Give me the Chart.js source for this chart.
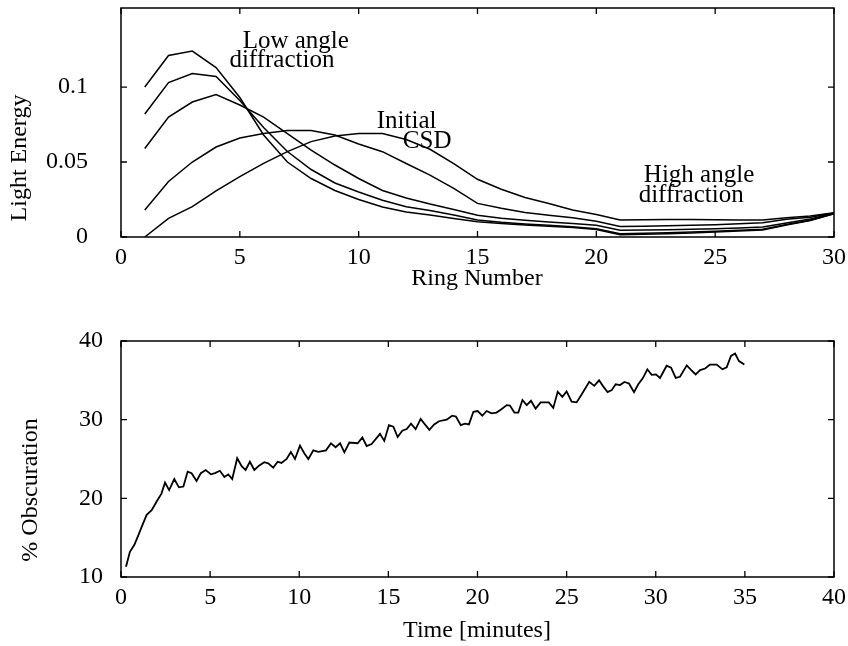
<!DOCTYPE html>
<html>
<head>
<meta charset="utf-8">
<script src="https://cdn.jsdelivr.net/npm/chart.js@4.4.1/dist/chart.umd.min.js"></script>
<style>
  html, body { margin: 0; padding: 0; background: #fff; }
  #wrap { position: relative; width: 848px; height: 646px; }
  canvas { position: absolute; left: 0; }
  #energyChart { top: 0; }
  #obscurationChart { top: 290px; }
</style>
</head>
<body>
<div id="wrap">
  <canvas id="energyChart" width="848" height="290"></canvas>
  <canvas id="obscurationChart" width="848" height="356"></canvas>
</div>
<script>
// ring detector number 1..30
const rings = [1, 2, 3, 4, 5, 6, 7, 8, 9, 10, 11, 12, 13, 14, 15,
  16, 17, 18, 19, 20, 21, 22, 23, 24, 25, 26, 27, 28, 29, 30];

// light energy curves, from latest (low angle) to the initial CSD
const energyLate = [0.100, 0.121, 0.124, 0.113, 0.093, 0.068, 0.050, 0.039, 0.031, 0.025,
  0.020, 0.0167, 0.0147, 0.0124, 0.0102, 0.0090, 0.0080, 0.0072, 0.0063, 0.0050,
  0.0015, 0.0018, 0.0022, 0.0027, 0.0033, 0.0040, 0.0047, 0.0080, 0.0110, 0.0155];
const energyMid2 = [0.082, 0.103, 0.109, 0.107, 0.091, 0.073, 0.057, 0.045, 0.036, 0.030,
  0.0245, 0.0202, 0.0176, 0.0147, 0.0113, 0.0098, 0.0087, 0.0078, 0.0068, 0.0055,
  0.0022, 0.0025, 0.0029, 0.0033, 0.0038, 0.0045, 0.0052, 0.0083, 0.0112, 0.0156];
const energyMid1 = [0.059, 0.080, 0.090, 0.095, 0.088, 0.080, 0.069, 0.058, 0.048, 0.039,
  0.031, 0.026, 0.022, 0.0184, 0.0145, 0.0125, 0.0112, 0.0100, 0.0090, 0.0078,
  0.0045, 0.0046, 0.0048, 0.0051, 0.0055, 0.0060, 0.0067, 0.0093, 0.0120, 0.0158];
const energyEarly = [0.018, 0.037, 0.050, 0.060, 0.066, 0.069, 0.071, 0.071, 0.068, 0.062,
  0.0569, 0.049, 0.0413, 0.0324, 0.0224, 0.0191, 0.0164, 0.0145, 0.0128, 0.0105,
  0.0070, 0.0072, 0.0075, 0.0078, 0.0082, 0.0088, 0.0095, 0.0118, 0.0132, 0.0160];
const energyInitial = [0.000, 0.0124, 0.0202, 0.0307, 0.0402, 0.0491, 0.0569, 0.0636, 0.0673, 0.0690,
  0.0690, 0.0650, 0.0585, 0.0490, 0.0385, 0.0318, 0.0264, 0.0224, 0.0180, 0.0150,
  0.0113, 0.0115, 0.0116, 0.0116, 0.0115, 0.0114, 0.0113, 0.0128, 0.0140, 0.0162];

// obscuration over time
const timeMinutes = [0.28, 0.5, 0.75, 0.97, 1.2, 1.44, 1.72, 2.0, 2.27, 2.47,
  2.7, 2.99, 3.25, 3.5, 3.74, 3.96, 4.24, 4.48, 4.75, 5.05,
  5.27, 5.55, 5.8, 6.02, 6.24, 6.52, 6.77, 6.99, 7.23, 7.48,
  7.74, 8.04, 8.26, 8.54, 8.79, 9.0, 9.29, 9.53, 9.76, 10.04,
  10.29, 10.51, 10.79, 11.07, 11.5, 11.78, 12.04, 12.29, 12.53, 12.81,
  13.28, 13.54, 13.78, 14.06, 14.53, 14.77, 15.03, 15.28, 15.52, 15.78,
  16.03, 16.27, 16.53, 16.81, 17.05, 17.3, 17.57, 17.84, 18.27, 18.58,
  18.79, 19.06, 19.3, 19.52, 19.77, 20.01, 20.27, 20.51, 20.79, 21.07,
  21.36, 21.64, 21.82, 22.07, 22.29, 22.52, 22.76, 23.0, 23.26, 23.54,
  24.0, 24.25, 24.5, 24.76, 25.0, 25.28, 25.56, 25.84, 26.27, 26.55,
  26.82, 27.06, 27.3, 27.53, 27.75, 28.0, 28.24, 28.5, 28.78, 29.02,
  29.27, 29.53, 29.77, 30.01, 30.24, 30.61, 30.86, 31.12, 31.36, 31.74,
  31.99, 32.24, 32.49, 32.77, 33.04, 33.42, 33.74, 33.98, 34.22, 34.45,
  34.67, 34.97];
const obscuration = [11.3, 13.2, 14.1, 15.3, 16.6, 17.9, 18.5, 19.6, 20.6, 22.0,
  21.05, 22.45, 21.4, 21.5, 23.4, 23.2, 22.2, 23.2, 23.6, 23.05,
  23.2, 23.5, 22.7, 23.05, 22.45, 25.1, 24.1, 23.6, 24.65, 23.6,
  24.15, 24.6, 24.45, 23.9, 24.65, 24.5, 25.0, 25.9, 25.0, 26.7,
  25.7, 25.0, 26.1, 25.9, 26.1, 27.0, 26.5, 27.0, 25.85, 27.1,
  27.0, 27.75, 26.65, 26.9, 28.2, 27.3, 29.3, 29.1, 27.8, 28.6,
  28.8, 29.5, 28.8, 30.1, 29.4, 28.7, 29.4, 29.8, 30.0, 30.5,
  30.4, 29.3, 29.5, 29.4, 31.0, 31.1, 30.5, 31.1, 30.8, 30.9,
  31.35, 31.85, 31.8, 30.9, 30.9, 32.5, 31.85, 32.4, 31.4, 32.2,
  32.2, 31.5, 33.55, 32.9, 33.6, 32.3, 32.2, 33.2, 34.8, 34.3,
  35.0, 34.2, 33.5, 33.75, 34.5, 34.4, 34.8, 34.6, 33.5, 34.5,
  35.25, 36.4, 35.7, 35.75, 35.3, 36.85, 36.6, 35.3, 35.45, 36.9,
  36.3, 35.75, 36.3, 36.5, 37.0, 37.0, 36.4, 36.65, 38.1, 38.4,
  37.45, 37.0];

const ringTicks = [0, 5, 10, 15, 20, 25, 30];
const energyTicks = [0, 0.05, 0.1];
const timeTicks = [0, 5, 10, 15, 20, 25, 30, 35, 40];
const obscurationTicks = [10, 20, 30, 40];

const SERIF = "'Liberation Serif', 'Times New Roman', serif";
Chart.defaults.font.family = SERIF;
Chart.defaults.font.size = 24;
Chart.defaults.color = "#000";
Chart.defaults.animation = false;

function toPoints(xs, ys) {
  return xs.map((x, i) => ({ x: x, y: ys[i] }));
}

// fixed axis boxes so the plot areas land where the original ones are
function fixWidth(w) {
  return (s) => { s.width = w; s.paddingTop = 0; s.paddingBottom = 0; };
}
function fixHeight(h) {
  return (s) => { s.height = h; s.paddingLeft = 0; s.paddingRight = 0; };
}

// box frame, inward tick marks on all sides, axis titles and notes
const framePlugin = {
  id: "frame",
  afterDraw(chart, args, opts) {
    const ctx = chart.ctx;
    const a = chart.chartArea;
    const xs = chart.scales.x;
    const ys = chart.scales.y;
    ctx.save();
    ctx.strokeStyle = "#000";
    ctx.lineWidth = 1.5;
    ctx.strokeRect(a.left, a.top, a.right - a.left, a.bottom - a.top);
    ctx.lineWidth = 1.3;
    ctx.beginPath();
    xs.ticks.forEach((t) => {
      const px = xs.getPixelForValue(t.value);
      ctx.moveTo(px, a.bottom);
      ctx.lineTo(px, a.bottom - 6);
      ctx.moveTo(px, a.top);
      ctx.lineTo(px, a.top + 6);
    });
    ys.ticks.forEach((t) => {
      const py = ys.getPixelForValue(t.value);
      ctx.moveTo(a.left, py);
      ctx.lineTo(a.left + 6, py);
      ctx.moveTo(a.right, py);
      ctx.lineTo(a.right - 6, py);
    });
    ctx.stroke();

    ctx.fillStyle = "#000";
    ctx.font = "24px " + SERIF;
    ctx.textAlign = "center";
    ctx.textBaseline = "middle";
    (opts.titles || []).forEach((t) => {
      ctx.save();
      ctx.translate(t.x, t.y);
      if (t.vertical) ctx.rotate(-Math.PI / 2);
      ctx.fillText(t.text, 0, 0);
      ctx.restore();
    });

    ctx.font = "25px " + SERIF;
    ctx.textAlign = "left";
    ctx.textBaseline = "alphabetic";
    (opts.notes || []).forEach((n) => {
      ctx.fillText(n.text, xs.getPixelForValue(n.x), ys.getPixelForValue(n.y));
    });
    ctx.restore();
  },
};

function lineSet(data, width) {
  return {
    data: data,
    borderColor: "#000",
    borderWidth: width,
    pointRadius: 0,
    tension: 0,
    fill: false,
  };
}

// Light energy vs ring number
new Chart(document.getElementById("energyChart").getContext("2d"), {
  type: "line",
  data: {
    datasets: [
      lineSet(toPoints(rings, energyLate), 1.5),
      lineSet(toPoints(rings, energyMid2), 1.5),
      lineSet(toPoints(rings, energyMid1), 1.5),
      lineSet(toPoints(rings, energyEarly), 1.5),
      lineSet(toPoints(rings, energyInitial), 1.5),
    ],
  },
  options: {
    responsive: false,
    devicePixelRatio: 1,
    layout: { padding: { top: 8, right: 14, left: 0, bottom: 0 } },
    scales: {
      x: {
        type: "linear",
        min: 0,
        max: 30,
        afterBuildTicks: (s) => { s.ticks = ringTicks.map((v) => ({ value: v })); },
        afterFit: fixHeight(53),
        grid: { display: false, drawTicks: false },
        border: { display: false },
        ticks: { padding: 6, maxRotation: 0, autoSkip: false },
      },
      y: {
        type: "linear",
        min: 0,
        max: 0.1527,
        afterBuildTicks: (s) => { s.ticks = energyTicks.map((v) => ({ value: v })); },
        afterFit: fixWidth(121),
        grid: { display: false, drawTicks: false },
        border: { display: false },
        ticks: { padding: 33, callback: (v) => String(v) },
      },
    },
    plugins: {
      legend: { display: false },
      tooltip: { enabled: false },
      frame: {
        titles: [
          { text: "Light Energy", x: 20, y: 158, vertical: true },
          { text: "Ring Number", x: 477, y: 279 },
        ],
        notes: [
          { text: "Low angle", x: 5.12, y: 0.1258 },
          { text: "diffraction", x: 4.56, y: 0.1135 },
          { text: "Initial", x: 10.76, y: 0.0725 },
          { text: "CSD", x: 11.86, y: 0.0593 },
          { text: "High angle", x: 22.0, y: 0.0369 },
          { text: "diffraction", x: 21.78, y: 0.0235 },
        ],
      },
    },
  },
  plugins: [framePlugin],
});

// % obscuration vs time
new Chart(document.getElementById("obscurationChart").getContext("2d"), {
  type: "line",
  data: {
    datasets: [lineSet(toPoints(timeMinutes, obscuration), 1.8)],
  },
  options: {
    responsive: false,
    devicePixelRatio: 1,
    layout: { padding: { top: 51, right: 14, left: 0, bottom: 0 } },
    scales: {
      x: {
        type: "linear",
        min: 0,
        max: 40,
        afterBuildTicks: (s) => { s.ticks = timeTicks.map((v) => ({ value: v })); },
        afterFit: fixHeight(69),
        grid: { display: false, drawTicks: false },
        border: { display: false },
        ticks: { padding: 6, maxRotation: 0, autoSkip: false },
      },
      y: {
        type: "linear",
        min: 10,
        max: 40,
        afterBuildTicks: (s) => { s.ticks = obscurationTicks.map((v) => ({ value: v })); },
        afterFit: fixWidth(121),
        grid: { display: false, drawTicks: false },
        border: { display: false },
        ticks: { padding: 18 },
      },
    },
    plugins: {
      legend: { display: false },
      tooltip: { enabled: false },
      frame: {
        titles: [
          { text: "% Obscuration", x: 31, y: 200, vertical: true },
          { text: "Time [minutes]", x: 477, y: 341 },
        ],
      },
    },
  },
  plugins: [framePlugin],
});
</script>
</body>
</html>
